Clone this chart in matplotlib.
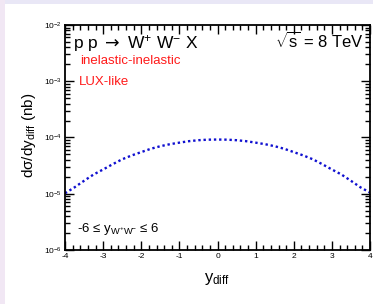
import numpy as np
import matplotlib
matplotlib.use("Agg")
import matplotlib.pyplot as plt
from matplotlib.patches import Rectangle
from matplotlib.ticker import LogLocator, MultipleLocator, NullFormatter

plt.rcParams['font.family'] = ['Liberation Sans', 'DejaVu Sans']
plt.rcParams['mathtext.fontset'] = 'custom'
plt.rcParams['mathtext.rm'] = 'Liberation Sans'
plt.rcParams['mathtext.it'] = 'Liberation Sans:italic'
plt.rcParams['mathtext.sf'] = 'DejaVu Sans'
plt.rcParams['mathtext.default'] = 'regular'
plt.rcParams['axes.unicode_minus'] = False

# data
y_diff = [-4.0, -3.75, -3.5, -3.25, -3.0, -2.75, -2.5, -2.25, -2.0, -1.75, -1.5, -1.25, -1.0, -0.75, -0.5, -0.25,
          0.0, 0.25, 0.5, 0.75, 1.0, 1.25, 1.5, 1.75, 2.0, 2.25, 2.5, 2.75, 3.0, 3.25, 3.5, 3.75, 4.0]
dsigma = [1.02e-5, 1.3e-5, 1.7e-5, 2.2e-5, 2.7e-5, 3.35e-5, 4.1e-5, 4.8e-5, 5.5e-5, 6.3e-5, 7.0e-5, 7.6e-5,
          8.1e-5, 8.6e-5, 8.95e-5, 9.15e-5,
          9.2e-5, 9.15e-5, 8.95e-5, 8.6e-5, 8.1e-5, 7.6e-5, 7.0e-5, 6.3e-5, 5.5e-5, 4.8e-5, 4.1e-5, 3.35e-5,
          2.7e-5, 2.2e-5, 1.7e-5, 1.3e-5, 1.05e-5]

fig = plt.figure(figsize=(3.73, 3.04), dpi=100, facecolor='white')
# lavender frame strips (top and left)
fig.patches.append(Rectangle((0, 1 - 4/304), 1, 4/304, transform=fig.transFigure,
                             facecolor='#e9e7f6', edgecolor='none'))
fig.patches.append(Rectangle((0, 0), 5/373, 1, transform=fig.transFigure,
                             facecolor='#f1e7f4', edgecolor='none'))

ax = fig.add_axes([65/373, 54/304, 305/373, 225/304])
ax.plot(y_diff, dsigma, color='#1010d0', lw=1.7, linestyle=(0, (1, 1.2)))

ax.set_yscale('log')
ax.set_xlim(-4, 4)
ax.set_ylim(1e-6, 1e-2)
ax.xaxis.set_major_locator(MultipleLocator(1))
ax.xaxis.set_minor_locator(MultipleLocator(0.2))
ax.yaxis.set_major_locator(LogLocator(base=10))
ax.yaxis.set_minor_locator(LogLocator(base=10, subs=np.arange(2, 10)))
ax.yaxis.set_minor_formatter(NullFormatter())
ax.tick_params(which='both', direction='in', top=True, right=True, labelsize=6, width=1.0)
ax.tick_params(which='major', length=6.5)
ax.tick_params(which='minor', length=3.5)
ax.tick_params(axis='x', pad=2.5)
ax.tick_params(axis='y', pad=2)
for s in ax.spines.values():
    s.set_linewidth(1.3)

ax.text(0.026, 0.896, r'p p $\mathsf{\rightarrow}$ W$^{+}$ W$^{-}$ X', transform=ax.transAxes,
        fontsize=12.5, va='baseline')
ax.text(0.98, 0.898, r'$\sqrt{s}$ = 8 TeV', transform=ax.transAxes,
        fontsize=12, va='baseline', ha='right')
ax.text(0.049, 0.827, 'inelastic-inelastic', transform=ax.transAxes,
        fontsize=9.5, color='#ff1a1a', va='baseline')
ax.text(0.046, 0.733, 'LUX-like', transform=ax.transAxes,
        fontsize=9.5, color='#ff1a1a', va='baseline')
ax.text(0.039, 0.08, '-6 ≤ y$_{W^{+}W^{-}}$ ≤ 6', transform=ax.transAxes,
        fontsize=9.5, va='baseline')

fig.text(29.5/373, 1 - 135/304, r'd$\sigma$/dy$_{diff}$ (nb)', rotation=90,
         fontsize=11, ha='center', va='center')
fig.text(217/373, 1 - 282/304, r'y$_{diff}$', fontsize=12, ha='center', va='baseline')

fig.savefig('out.png', dpi=100)
